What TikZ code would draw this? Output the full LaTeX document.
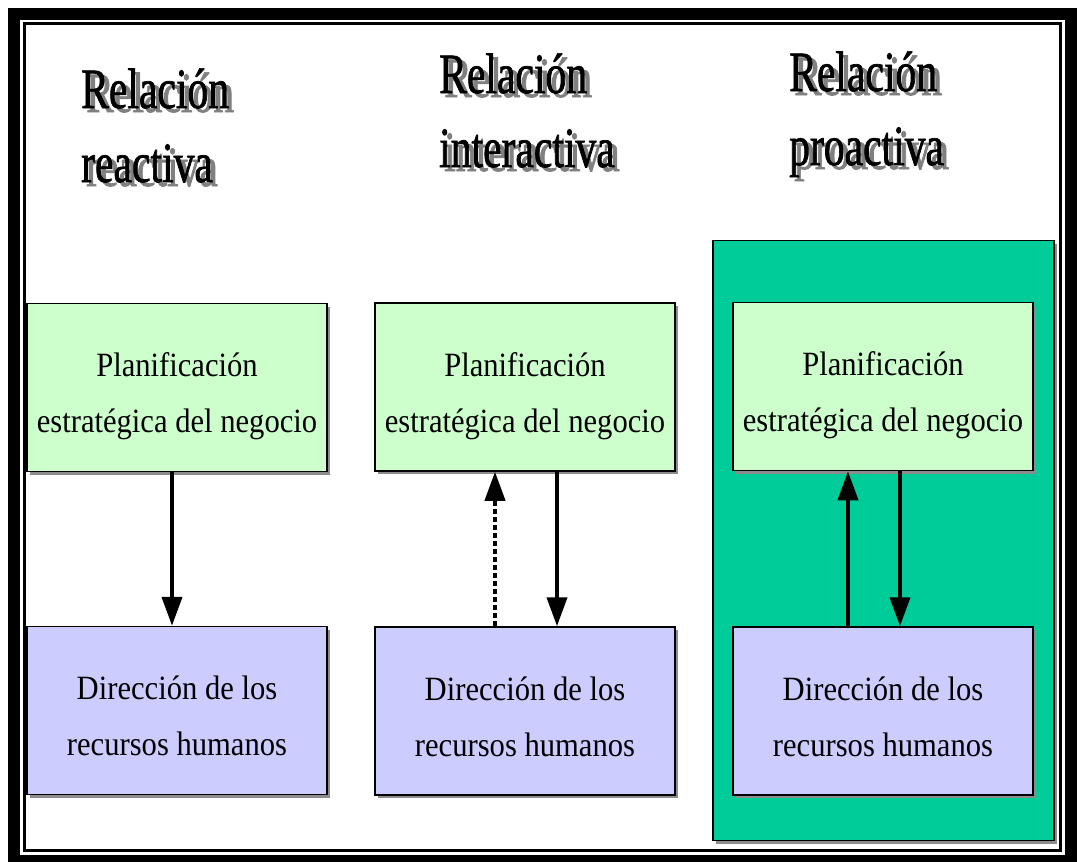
\documentclass[tikz,border=0pt]{standalone}
\usepackage{fontspec}
\setmainfont{Liberation Serif}
\newfontfamily\titlefont[FakeStretch=0.73,FakeBold=1.2]{Liberation Serif}
\newfontfamily\bodyfont[FakeStretch=0.9]{Liberation Serif}
\usetikzlibrary{arrows.meta,shadows}
\definecolor{plangreen}{HTML}{CCFFCC}
\definecolor{rhblue}{HTML}{CCCCFF}
\definecolor{proteal}{HTML}{00CC99}
\newcommand{\embossed}[1]{\leavevmode\rlap{\kern5pt\raisebox{-4pt}{\color{black!50}#1}}#1}
\begin{document}
\begin{tikzpicture}[x=1pt,y=-1pt,
  sombra/.style={drop shadow={shadow xshift=3pt,shadow yshift=-3pt,fill=black!45,opacity=1}},
  caja/.style={shape=rectangle,draw=black,line width=1.5pt,minimum width=300pt,minimum height=168pt,inner sep=0pt,align=center,
    font=\bodyfont\fontsize{34}{56}\selectfont,sombra,text height=94pt,text depth=4pt},
  plan/.style={caja,fill=plangreen},
  rrhh/.style={caja,fill=rhblue},
  titulo/.style={anchor=base west,align=left,inner sep=0pt,font=\titlefont\fontsize{57}{74}\selectfont},
  flecha/.style={line width=4pt,-{Triangle[width=20pt,length=29pt]}}]
\useasboundingbox (0,0) rectangle (1077,862);
\fill[white] (0,0) rectangle (1077,862);
\draw[line width=12pt] (14,14) rectangle (1071,861);
\draw[line width=3pt] (24.5,23.5) rectangle (1060,850);

% titles
\node[titulo] (reactiva) at (81,182) {\embossed{Relación}\\\embossed{reactiva}};
\node[titulo] (interactiva) at (439,167) {\embossed{Relación}\\\embossed{interactiva}};
\node[titulo] (proactiva) at (789,165) {\embossed{Relación}\\\embossed{proactiva}};

% proactive panel
\node[shape=rectangle,draw=black,line width=1.5pt,fill=proteal,minimum width=341pt,minimum height=600pt,sombra] (panel) at (883.5,540.5) {};

% boxes
\node[plan] (plan1) at (177,387.5) {Planificación\\estratégica del negocio};
\node[plan] (plan2) at (525,387) {Planificación\\estratégica del negocio};
\node[plan] (plan3) at (883,386.5) {Planificación\\estratégica del negocio};
\node[rrhh] (rrhh1) at (177,710.5) {Dirección de los\\recursos humanos};
\node[rrhh] (rrhh2) at (525,711) {Dirección de los\\recursos humanos};
\node[rrhh] (rrhh3) at (883,711) {Dirección de los\\recursos humanos};

% arrows
\draw[flecha] ([xshift=-5pt]plan1.south) -- ([xshift=-5pt]rrhh1.north);
\draw[flecha,dash pattern=on 5pt off 3pt] ([xshift=-30pt]rrhh2.north) -- ([xshift=-30pt]plan2.south);
\draw[flecha] ([xshift=32pt]plan2.south) -- ([xshift=32pt]rrhh2.north);
\draw[flecha] ([xshift=-35pt]rrhh3.north) -- ([xshift=-35pt]plan3.south);
\draw[flecha] ([xshift=17pt]plan3.south) -- ([xshift=17pt]rrhh3.north);
\end{tikzpicture}
\end{document}
